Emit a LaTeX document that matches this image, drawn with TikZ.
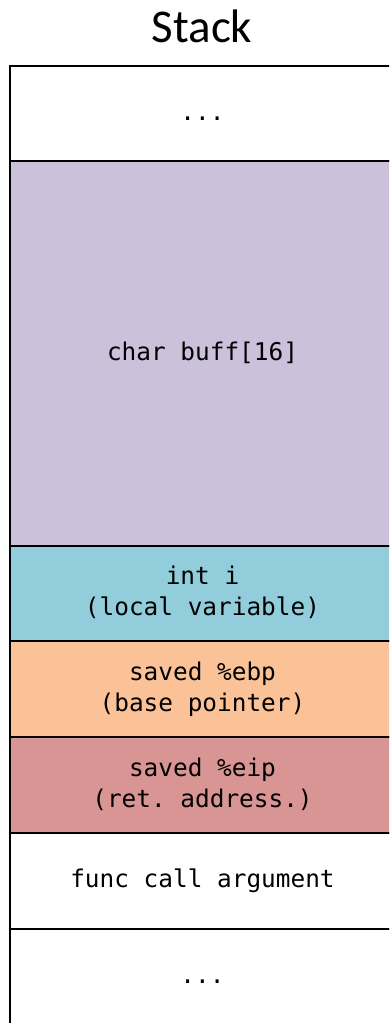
\documentclass[tikz,border=0pt]{standalone}
\usepackage{fontspec}
\setmainfont{Carlito}
\setmonofont{DejaVu Sans Mono}
\definecolor{bufffill}{RGB}{204,193,218}
\definecolor{localfill}{RGB}{146,205,220}
\definecolor{ebpfill}{RGB}{250,194,150}
\definecolor{eipfill}{RGB}{217,149,148}
% one text line with a fixed height and depth, so every line sits alike
\newcommand{\lineS}[1]{\rule[-6pt]{0pt}{25pt}#1}
\tikzset{
  cell/.style={draw=black, line width=2pt, minimum width=385pt, inner sep=0pt,
    align=center, font=\ttfamily\fontsize{24.4}{31}\selectfont},
  title/.style={font=\fontsize{47}{50}\selectfont, inner sep=0pt}
}
\begin{document}
\begin{tikzpicture}[x=1pt,y=-1pt]
  \clip (0,0) rectangle (389,1023);
  \fill[white] (0,0) rectangle (389,1023);
  \node[title, anchor=base] (title) at (202,42) {Stack};
  \node[cell, fill=white, minimum height=95pt] (top) at (202.5,113.5) {\lineS{...}};
  \node[cell, fill=bufffill, minimum height=385pt] (buff) at (202.5,353.5) {\lineS{char buff[16]}};
  \node[cell, fill=localfill, minimum height=95pt] (local) at (202.5,593.5) {\lineS{int i}\\\lineS{(local variable)}};
  \node[cell, fill=ebpfill, minimum height=96pt] (ebp) at (202.5,689) {\lineS{saved \%ebp}\\\lineS{(base pointer)}};
  \node[cell, fill=eipfill, minimum height=96pt] (eip) at (202.5,785) {\lineS{saved \%eip}\\\lineS{(ret. address.)}};
  \node[cell, fill=white, minimum height=96pt] (arg) at (202.5,881) {\lineS{func call argument}};
  \node[cell, fill=white, minimum height=96pt] (bottom) at (202.5,977) {\lineS{...}};
\end{tikzpicture}
\end{document}
